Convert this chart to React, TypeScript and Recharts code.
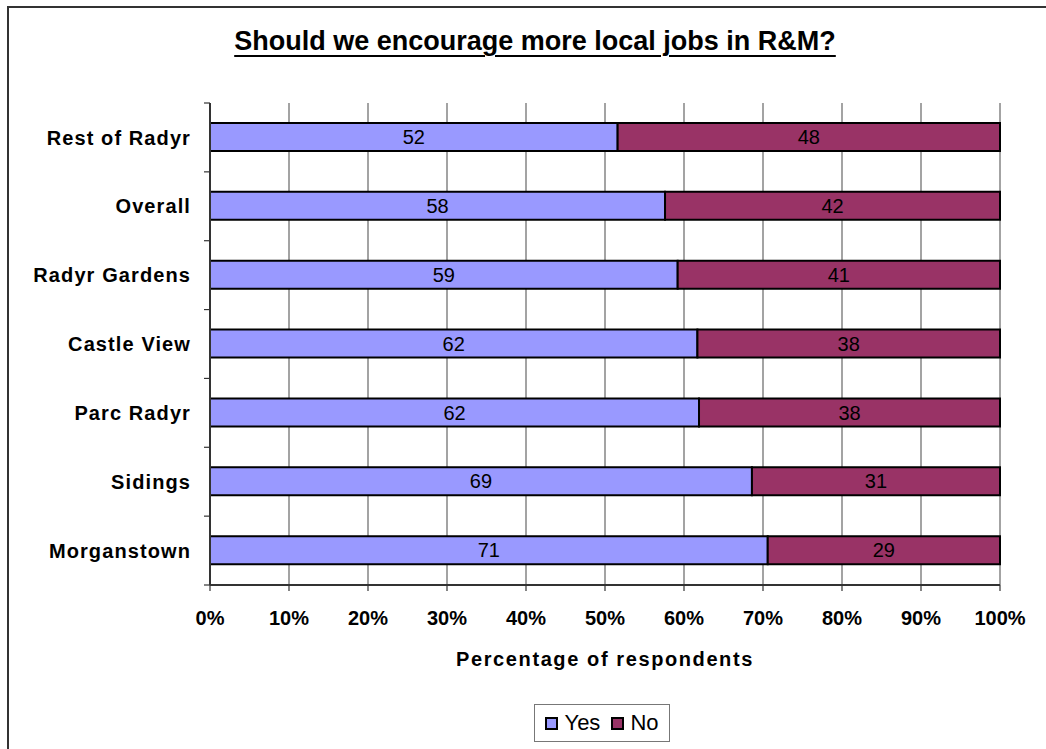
import React from 'react';
import { BarChart, Bar, XAxis, YAxis, CartesianGrid, Legend, LabelList } from 'recharts';

const categories = ['Rest of Radyr', 'Overall', 'Radyr Gardens', 'Castle View', 'Parc Radyr', 'Sidings', 'Morganstown'];
const yesValues = [51.6, 57.6, 59.2, 61.7, 61.9, 68.6, 70.6];
const noValues = [48.4, 42.4, 40.8, 38.3, 38.1, 31.4, 29.4];
const seriesNames = ['Yes', 'No'];
const xTicks = [0, 10, 20, 30, 40, 50, 60, 70, 80, 90, 100];

const data = categories.map((name, i) => ({ name, yes: yesValues[i], no: noValues[i] }));

const FONT = '"Liberation Sans", Arial, sans-serif';
const TICK_SIZE = 6;
const TICK_MARGIN = 13;

const CategoryTick = (props: any) => {
  const { x, y, payload, index, visibleTicksCount } = props;
  const half = payload && payload.offset ? payload.offset : 0;
  const lx1 = x + TICK_MARGIN;
  const lx2 = x + TICK_MARGIN + TICK_SIZE;
  const isLast = index === (visibleTicksCount ?? categories.length) - 1;
  return (
    <g>
      <line x1={lx1} x2={lx2} y1={y - half} y2={y - half} stroke="#333" strokeWidth={1.2} />
      {isLast && <line x1={lx1} x2={lx2} y1={y + half} y2={y + half} stroke="#333" strokeWidth={1.2} />}
      <text
        x={x}
        y={y}
        dy="0.36em"
        textAnchor="end"
        fill="#000"
        fontSize={20}
        fontWeight="bold"
        fontFamily={FONT}
        letterSpacing={1.1}
      >
        {payload.value}
      </text>
    </g>
  );
};

const LegendBox = (props: any) => {
  const payload = [...(props.payload || [])].sort(
    (a: any, b: any) => seriesNames.indexOf(a.value) - seriesNames.indexOf(b.value)
  );
  return (
    <div
      style={{
        boxSizing: 'border-box',
        width: 136,
        height: 38,
        border: '1px solid #777',
        background: '#fff',
        display: 'flex',
        alignItems: 'center',
        justifyContent: 'center',
        fontFamily: FONT,
        fontSize: 22,
        color: '#000',
      }}
    >
      {payload.map((p: any, i: number) => (
        <span key={i} style={{ display: 'inline-flex', alignItems: 'center', marginLeft: i === 0 ? 0 : 11 }}>
          <span
            style={{
              display: 'inline-block',
              boxSizing: 'border-box',
              width: 13,
              height: 13,
              border: '2px solid #000',
              background: p.color,
              marginRight: 6,
            }}
          />
          {p.value}
        </span>
      ))}
    </div>
  );
};

export default function App() {
  return (
    <div style={{ position: 'absolute', left: 0, top: 0, width: 1046, height: 749, overflow: 'hidden', background: '#fff' }}>
      <div
        style={{
          position: 'absolute',
          left: 7,
          top: 6,
          width: 1039,
          height: 743,
          boxSizing: 'border-box',
          borderLeft: '2px solid #333',
          borderTop: '2px solid #333',
        }}
      />
      <div
        style={{
          position: 'absolute',
          left: 0,
          top: 26,
          width: 1070,
          textAlign: 'center',
          fontFamily: FONT,
          fontWeight: 'bold',
          fontSize: 27,
          lineHeight: '30px',
          color: '#000',
          textDecoration: 'underline',
          textDecorationThickness: '2px',
          textUnderlineOffset: '5px',
        }}
      >
        Should we encourage more local jobs in R&amp;M?
      </div>
      <div style={{ position: 'absolute', left: 0, top: 0 }}>
        <BarChart
          width={1046}
          height={749}
          data={data}
          layout="vertical"
          margin={{ top: 103, right: 46, bottom: 7, left: 0 }}
          style={{ fontFamily: FONT }}
        >
          <CartesianGrid horizontal={false} vertical={true} stroke="#666" strokeWidth={1.2} />
          <XAxis
            xAxisId="top"
            orientation="top"
            type="number"
            domain={[0, 100]}
            height={0}
            tick={false}
            tickLine={false}
            axisLine={{ stroke: '#999', strokeWidth: 2 }}
          />
          <XAxis
            xAxisId={0}
            type="number"
            domain={[0, 100]}
            ticks={xTicks}
            interval={0}
            tickFormatter={(v: number) => `${v}%`}
            height={119}
            axisLine={{ stroke: '#333', strokeWidth: 2 }}
            tickLine={{ stroke: '#333', strokeWidth: 1.2 }}
            tickSize={6}
            tickMargin={20}
            tick={{ fill: '#000', fontSize: 20, fontWeight: 'bold', fontFamily: FONT }}
            label={{
              value: 'Percentage of respondents',
              position: 'insideBottom',
              offset: 38,
              fill: '#000',
              fontSize: 20,
              fontWeight: 'bold',
              fontFamily: FONT,
              letterSpacing: 1.6,
            }}
          />
          <YAxis
            yAxisId="cat"
            type="category"
            dataKey="name"
            width={210}
            interval={0}
            tickSize={TICK_SIZE}
            tickMargin={TICK_MARGIN}
            tickLine={false}
            axisLine={{ stroke: '#333', strokeWidth: 2 }}
            tick={<CategoryTick />}
          />
          <Legend
            verticalAlign="bottom"
            align="center"
            content={<LegendBox />}
            wrapperStyle={{ left: 534, width: 136, height: 38, bottom: 7 }}
          />
          <Bar
            xAxisId={0}
            yAxisId="cat"
            dataKey="yes"
            name="Yes"
            stackId="s"
            fill="#9999FF"
            stroke="#000"
            strokeWidth={2}
            barSize={28}
            isAnimationActive={false}
          >
            <LabelList
              dataKey="yes"
              position="center"
              formatter={(v: any) => Math.round(Number(v))}
              fill="#000"
              fontSize={20}
              fontFamily={FONT}
            />
          </Bar>
          <Bar
            xAxisId={0}
            yAxisId="cat"
            dataKey="no"
            name="No"
            stackId="s"
            fill="#993366"
            stroke="#000"
            strokeWidth={2}
            barSize={28}
            isAnimationActive={false}
          >
            <LabelList
              dataKey="no"
              position="center"
              formatter={(v: any) => Math.round(Number(v))}
              fill="#000"
              fontSize={20}
              fontFamily={FONT}
            />
          </Bar>
        </BarChart>
      </div>
    </div>
  );
}
